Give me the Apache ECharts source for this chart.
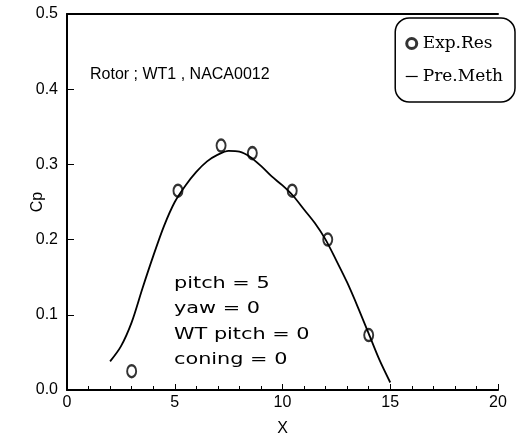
<!DOCTYPE html>
<html><head><meta charset="utf-8">
<script src="https://cdn.jsdelivr.net/npm/echarts@6/dist/echarts.min.js"></script>
<style>html,body{margin:0;padding:0;background:#fff}#c{width:523px;height:442px}</style>
</head><body><div id="c"></div>
<script>
// Experimental results (Exp.Res)
const expX = [3.0, 5.15, 7.15, 8.6, 10.45, 12.1, 14.0];
const expCp = [0.025, 0.265, 0.325, 0.315, 0.265, 0.2, 0.073];
// Predicted method (Pre.Meth)
const predX = [2.0, 2.5, 3.0, 3.5, 4.0, 4.5, 5.0, 5.5, 6.0, 6.5, 7.0, 7.5, 8.0, 8.5, 9.0, 9.5, 10.0, 10.5, 11.0, 11.5, 12.0, 12.5, 13.0, 13.5, 14.0, 14.5, 15.0];
const predCp = [0.038, 0.058, 0.09, 0.135, 0.178, 0.218, 0.25, 0.272, 0.29, 0.304, 0.313, 0.318, 0.317, 0.31, 0.298, 0.284, 0.272, 0.258, 0.24, 0.222, 0.2, 0.172, 0.143, 0.11, 0.075, 0.04, 0.01];
const xTicks = [0, 5, 10, 15, 20];
const yTicks = [0.0, 0.1, 0.2, 0.3, 0.4, 0.5];
const notes = ['pitch = 5', 'yaw = 0', 'WT pitch = 0', 'coning = 0'];
const title = 'Rotor ; WT1 , NACA0012';

const chart = echarts.init(document.getElementById('c'));
const zip = (a, b) => a.map((v, i) => [v, b[i]]);
chart.setOption({
  animation: false,
  backgroundColor: '#fff',
  grid: { left: 67, right: 25, top: 14, bottom: 36 },
  legend: {
    orient: 'vertical', right: 8, top: 18,
    backgroundColor: '#fff',
    borderColor: '#000', borderWidth: 1.5, borderRadius: 14,
    padding: [17, 12, 17, 10], itemGap: 16,
    textStyle: { fontFamily: 'DejaVu Serif', fontSize: 17, color: '#000' },
    data: [
      { name: 'Exp.Res', icon: 'circle', itemStyle: { color: '#fff', borderColor: '#000', borderWidth: 3 } },
      { name: 'Pre.Meth', icon: 'path://M0,4h16v1.6h-16z' }
    ],
    itemWidth: 12, itemHeight: 10
  },
  xAxis: [{
    type: 'value', min: xTicks[0], max: xTicks[xTicks.length - 1], interval: 5,
    name: 'X', nameLocation: 'middle', nameGap: 31,
    nameTextStyle: { fontFamily: 'Liberation Sans', fontSize: 16, color: '#000' },
    axisLine: { lineStyle: { color: '#000', width: 2 } },
    axisTick: { inside: true, length: 6, lineStyle: { color: '#000' } },
    minorTick: { show: true, splitNumber: 5, length: 4, lineStyle: { color: '#000' } },
    axisLabel: { fontFamily: 'Liberation Sans', fontSize: 16, color: '#000', margin: 5 },
    splitLine: { show: false }
  }, {
    type: 'value', position: 'top', min: 0, max: 20,
    axisLine: { show: true, lineStyle: { color: '#000', width: 2 } },
    axisTick: { show: false }, axisLabel: { show: false }, splitLine: { show: false }
  }],
  yAxis: {
    type: 'value', min: yTicks[0], max: yTicks[yTicks.length - 1], interval: 0.1,
    name: 'Cp', nameLocation: 'middle', nameGap: 21, nameMoveOverlap: false,
    nameTextStyle: { fontFamily: 'Liberation Sans', fontSize: 16, color: '#000' },
    axisLine: { show: true, lineStyle: { color: '#000', width: 2 } },
    axisTick: { inside: true, length: 7, lineStyle: { color: '#000' } },
    axisLabel: { fontFamily: 'Liberation Sans', fontSize: 16, color: '#000', margin: 9,
      formatter: v => v.toFixed(1) },
    splitLine: { show: false }
  },
  graphic: [
    { type: 'text', left: 90, top: 67, style: { text: title, font: '16px "Liberation Sans Narrow", "Liberation Sans"', fill: '#000' } },
    { type: 'text', x: 174, y: 271, scaleX: 1.3, style: { text: notes.join('\n'), font: '16px "DejaVu Sans"', lineHeight: 25.5, fill: '#000' } }
  ],
  series: [{
    name: 'Pre.Meth', type: 'line', smooth: 0.3, showSymbol: false,
    data: zip(predX, predCp), lineStyle: { color: '#000', width: 1.8 }, itemStyle: { color: '#000' }
  }, {
    name: 'Exp.Res', type: 'scatter', symbol: 'circle', symbolSize: [9, 12],
    data: zip(expX, expCp), itemStyle: { color: '#fff', borderColor: '#000', borderWidth: 2.2 }
  }]
});
</script></body></html>
